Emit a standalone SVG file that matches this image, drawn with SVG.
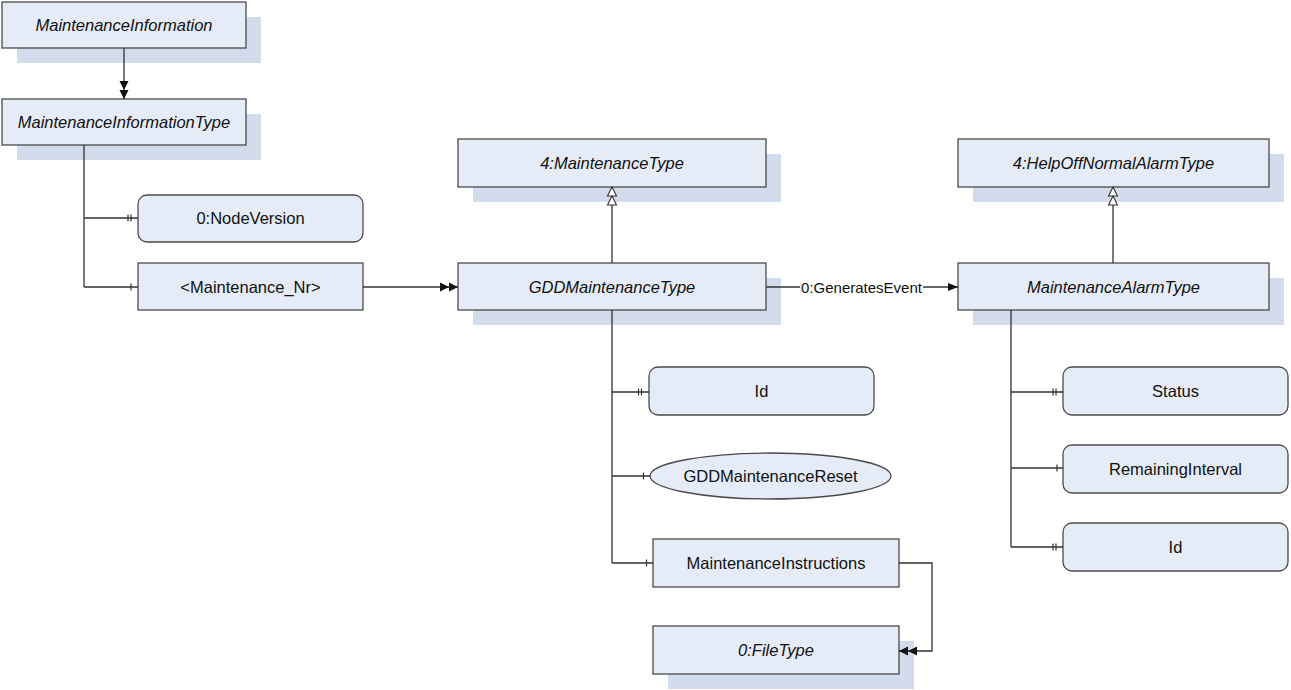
<svg xmlns="http://www.w3.org/2000/svg" width="1291" height="690" viewBox="0 0 1291 690">
<style>
.box{fill:#e6ecf7;stroke:#4a4a4a;stroke-width:1.3}
.sh{fill:#d2dcec}
.t{font-family:"Liberation Sans",Arial,sans-serif;font-size:16.5px;fill:#111;text-anchor:middle}
.i{font-style:italic}
.ln{fill:none;stroke:#333;stroke-width:1.3}
.tk{stroke:#333;stroke-width:1.2}
.lbl{font-family:"Liberation Sans",Arial,sans-serif;font-size:15px;fill:#111;text-anchor:middle}
</style>
<defs>
<marker id="dbl" markerUnits="userSpaceOnUse" viewBox="0 0 18 10" markerWidth="18" markerHeight="10" refX="18" refY="5" orient="auto" overflow="visible">
<path d="M0,0.5 L9,5 L0,9.5 z M9,0.5 L18,5 L9,9.5 z" fill="#111"/>
</marker>
<marker id="sgl" markerUnits="userSpaceOnUse" viewBox="0 0 10 10" markerWidth="10" markerHeight="10" refX="10" refY="5" orient="auto" overflow="visible">
<path d="M0,1 L10,5 L0,9 z" fill="#111"/>
</marker>
<marker id="gen" markerUnits="userSpaceOnUse" viewBox="0 0 20 12" markerWidth="20" markerHeight="12" refX="19" refY="6" orient="auto" overflow="visible">
<path d="M10,1.5 L19,6 L10,10.5 z M1,1.5 L10,6 L1,10.5 z" fill="#fff" stroke="#333" stroke-width="1.1"/>
</marker>
</defs>

<g id="MaintenanceInformation">
<rect class="sh" x="17" y="17" width="244" height="46"/>
<rect class="box" x="2" y="2" width="244" height="46"/>
<text class="t i" x="124" y="30.5">MaintenanceInformation</text>
</g>
<g id="MaintenanceInformationType">
<rect class="sh" x="17" y="114" width="244" height="46"/>
<rect class="box" x="2" y="99" width="244" height="46"/>
<text class="t i" x="124" y="127.5">MaintenanceInformationType</text>
</g>
<g id="NodeVersion">
<rect class="box" x="138" y="195" width="225" height="47" rx="9"/>
<text class="t" x="250.5" y="224">0:NodeVersion</text>
</g>
<g id="Maintenance_Nr">
<rect class="box" x="138" y="263" width="225" height="47"/>
<text class="t" x="250.5" y="292.5">&lt;Maintenance_Nr&gt;</text>
</g>
<g id="MaintenanceType">
<rect class="sh" x="473" y="154" width="308" height="48"/>
<rect class="box" x="458" y="139" width="308" height="48"/>
<text class="t i" x="612" y="168.5">4:MaintenanceType</text>
</g>
<g id="GDDMaintenanceType">
<rect class="sh" x="473" y="278" width="308" height="47"/>
<rect class="box" x="458" y="263" width="308" height="47"/>
<text class="t i" x="612" y="292.5">GDDMaintenanceType</text>
</g>
<g id="HelpOffNormalAlarmType">
<rect class="sh" x="973" y="154" width="311" height="48"/>
<rect class="box" x="958" y="139" width="311" height="48"/>
<text class="t i" x="1113.5" y="168.5">4:HelpOffNormalAlarmType</text>
</g>
<g id="MaintenanceAlarmType">
<rect class="sh" x="973" y="278" width="311" height="47"/>
<rect class="box" x="958" y="263" width="311" height="47"/>
<text class="t i" x="1113.5" y="292.5">MaintenanceAlarmType</text>
</g>
<g id="GDD_Id">
<rect class="box" x="649" y="367" width="225" height="48" rx="9"/>
<text class="t" x="761.5" y="397">Id</text>
</g>
<g id="GDDMaintenanceReset">
<ellipse class="box" cx="770.5" cy="476" rx="120.5" ry="23"/>
<text class="t" x="770.5" y="481.5">GDDMaintenanceReset</text>
</g>
<g id="MaintenanceInstructions">
<rect class="box" x="653" y="539" width="246" height="48"/>
<text class="t" x="776" y="568.5">MaintenanceInstructions</text>
</g>
<g id="FileType">
<rect class="sh" x="668" y="641" width="246" height="48"/>
<rect class="box" x="653" y="626" width="246" height="48"/>
<text class="t i" x="776" y="655.5">0:FileType</text>
</g>
<g id="Status">
<rect class="box" x="1063" y="367" width="225" height="48" rx="9"/>
<text class="t" x="1175.5" y="397">Status</text>
</g>
<g id="RemainingInterval">
<rect class="box" x="1063" y="445" width="225" height="48" rx="9"/>
<text class="t" x="1175.5" y="474.5">RemainingInterval</text>
</g>
<g id="Alarm_Id">
<rect class="box" x="1063" y="523" width="225" height="48" rx="9"/>
<text class="t" x="1175.5" y="552.5">Id</text>
</g>

<g id="connectors">
<line class="ln" x1="124" y1="48" x2="124" y2="99" marker-end="url(#dbl)"/>
<path class="ln" d="M84,145 V287 M84,218 H138 M84,287 H138"/>
<line class="tk" x1="128" y1="214.5" x2="128" y2="221.5"/>
<line class="tk" x1="131" y1="214.5" x2="131" y2="221.5"/>
<line class="tk" x1="131" y1="283.5" x2="131" y2="290.5"/>
<line class="ln" x1="363" y1="287" x2="458" y2="287" marker-end="url(#dbl)"/>
<line class="ln" x1="612" y1="263" x2="612" y2="187" marker-end="url(#gen)"/>
<line class="ln" x1="1113" y1="263" x2="1113" y2="187" marker-end="url(#gen)"/>
<line class="ln" x1="766" y1="287" x2="958" y2="287" marker-end="url(#sgl)"/>
<rect x="800" y="278" width="123" height="18" fill="#fff"/>
<text class="lbl" x="861.5" y="292.5">0:GeneratesEvent</text>
<path class="ln" d="M612,310 V563 M612,392 H649 M612,476 H650 M612,563 H653"/>
<line class="tk" x1="638.5" y1="388.5" x2="638.5" y2="395.5"/>
<line class="tk" x1="641.5" y1="388.5" x2="641.5" y2="395.5"/>
<line class="tk" x1="643.5" y1="472.5" x2="643.5" y2="479.5"/>
<line class="tk" x1="646.5" y1="559.5" x2="646.5" y2="566.5"/>
<path class="ln" d="M899,563 H932 V651 H899" marker-end="url(#dbl)"/>
<path class="ln" d="M1011,310 V547 M1011,392 H1063 M1011,468 H1063 M1011,547 H1063"/>
<line class="tk" x1="1053" y1="388.5" x2="1053" y2="395.5"/>
<line class="tk" x1="1056" y1="388.5" x2="1056" y2="395.5"/>
<line class="tk" x1="1057" y1="464.5" x2="1057" y2="471.5"/>
<line class="tk" x1="1053" y1="543.5" x2="1053" y2="550.5"/>
<line class="tk" x1="1056" y1="543.5" x2="1056" y2="550.5"/>
</g>
</svg>
